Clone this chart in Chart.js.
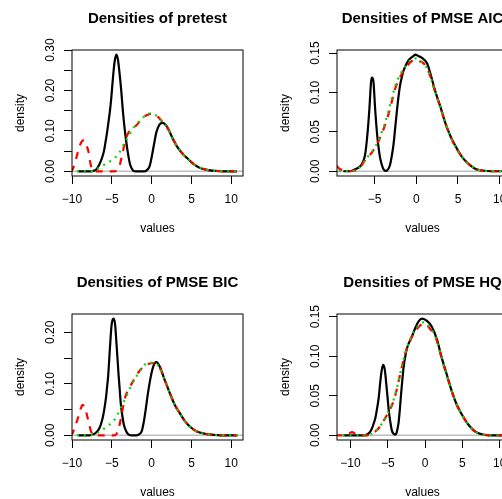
<!DOCTYPE html>
<html lang="en">
<head>
<meta charset="UTF-8">
<title>Densities</title>
<script src="https://cdn.jsdelivr.net/npm/chart.js"></script>
<style>
  body { margin: 0; overflow: hidden; background: #fff; }
  #wrap { position: relative; width: 530px; height: 528px; }
  #wrap canvas { position: absolute; }
</style>
</head>
<body>
<div id="wrap">
  <canvas id="c0" width="265" height="264" style="left:0px;top:0px"></canvas>
  <canvas id="c1" width="265" height="264" style="left:265px;top:0px"></canvas>
  <canvas id="c2" width="265" height="264" style="left:0px;top:264px"></canvas>
  <canvas id="c3" width="265" height="264" style="left:265px;top:264px"></canvas>
</div>
<script>
// panel titles
const titles = ['Densities of pretest', 'Densities of PMSE AIC', 'Densities of PMSE BIC', 'Densities of PMSE HQ'];

// density curves, [value, density]
// black = solid, red = dashed, green = dotted
const pretestBlack = [[-9.2,0],[-7.6,0],[-7.2,0.002],[-6.9,0.006],[-6.57,0.017],[-6.25,0.032],[-5.99,0.05],[-5.77,0.075],[-5.57,0.10],[-5.4,0.125],[-5.24,0.149],[-5.1,0.175],[-4.99,0.2],[-4.78,0.248],[-4.6,0.277],[-4.42,0.2885],[-4.24,0.277],[-4.07,0.25],[-3.82,0.2],[-3.61,0.149],[-3.36,0.10],[-3.2,0.075],[-3.02,0.05],[-2.73,0.019],[-2.5,0.007],[-2.31,0.002],[-2.0,0],[-0.9,0],[-0.6,0.003],[-0.25,0.013],[0.0,0.035],[0.3,0.067],[0.6,0.097],[1.0,0.116],[1.4,0.120],[1.8,0.114],[2.1,0.104],[2.7,0.079],[3.3,0.058],[3.95,0.042],[4.6,0.030],[5.2,0.019],[6.0,0.009],[7.1,0.003],[8.1,0.001],[9.0,0],[10.68,0]];
const pretestRed = [[-10.2,0],[-10,0.0025],[-9.62,0.021],[-9.3,0.045],[-9.12,0.058],[-8.8,0.073],[-8.5,0.077],[-8.25,0.068],[-7.95,0.05],[-7.66,0.017],[-7.4,0.003],[-7.2,0],[-4.7,0],[-4.35,0.003],[-4.07,0.011],[-3.73,0.038],[-3.36,0.071],[-2.94,0.095],[-2.5,0.103],[-2.0,0.112],[-1.5,0.123],[-1.0,0.134],[-0.5,0.140],[-0.1,0.142],[0.4,0.139],[0.82,0.134],[1.2,0.126],[1.6,0.117],[2.1,0.104],[2.7,0.080],[3.3,0.058],[3.95,0.042],[4.6,0.030],[5.2,0.019],[6.0,0.010],[7.1,0.003],[8.1,0.001],[9.0,0],[10.7,0]];
const pretestGreen = [[-9.4,0],[-7.8,0],[-7.0,0.004],[-6.4,0.011],[-5.57,0.021],[-4.82,0.030],[-4.11,0.045],[-3.6,0.063],[-3.15,0.078],[-2.73,0.093],[-2.2,0.110],[-1.6,0.123],[-0.85,0.137],[-0.3,0.143],[0.0,0.1435],[0.4,0.140],[0.82,0.134],[1.2,0.126],[1.6,0.117],[2.1,0.104],[2.7,0.080],[3.3,0.058],[3.95,0.042],[4.6,0.030],[5.2,0.019],[6.0,0.010],[7.1,0.003],[8.1,0.001],[9.0,0],[10.7,0]];

const aicBlack = [[-8.75,0],[-8,0],[-7.35,0.0025],[-6.9,0.005],[-6.54,0.009],[-6.14,0.021],[-5.86,0.047],[-5.62,0.080],[-5.42,0.114],[-5.3,0.119],[-5.14,0.114],[-4.94,0.080],[-4.70,0.047],[-4.5,0.028],[-4.34,0.017],[-4.1,0.007],[-3.93,0.0025],[-3.75,0.0005],[-3.53,0.001],[-3.3,0.004],[-3.13,0.009],[-2.93,0.02],[-2.73,0.034],[-2.53,0.055],[-2.33,0.076],[-2.13,0.095],[-1.93,0.11],[-1.72,0.12],[-1.52,0.128],[-0.92,0.141],[-0.32,0.1465],[-0.12,0.148],[0.3,0.146],[0.68,0.144],[1.29,0.137],[1.69,0.124],[2.29,0.101],[2.89,0.082],[3.49,0.061],[4.1,0.0445],[4.7,0.032],[5.5,0.018],[6.3,0.009],[7.1,0.003],[7.9,0.001],[9,0],[10.24,0]];
const aicRed = [[-9.8,0.008],[-9.56,0.0067],[-9.2,0.003],[-8.55,0.001],[-8.0,0],[-7.4,0.001],[-6.95,0.0025],[-6.34,0.011],[-5.84,0.018],[-5.34,0.0235],[-4.94,0.030],[-4.54,0.038],[-4.13,0.048],[-3.73,0.059],[-3.43,0.069],[-3.13,0.080],[-2.83,0.093],[-2.53,0.105],[-1.93,0.12],[-1.32,0.1305],[-0.52,0.14],[-0.12,0.1415],[0.28,0.140],[0.88,0.137],[1.49,0.126],[2.0,0.11],[2.29,0.100],[2.89,0.081],[3.49,0.061],[4.1,0.044],[4.7,0.031],[5.5,0.018],[6.3,0.009],[7.1,0.003],[7.9,0.001],[9,0],[11,0]];
const aicGreen = [[-9.3,0],[-8.0,0],[-7.4,0.001],[-6.95,0.003],[-6.34,0.011],[-5.84,0.018],[-5.34,0.0245],[-4.94,0.031],[-4.54,0.039],[-4.13,0.05],[-3.73,0.062],[-3.43,0.073],[-3.13,0.085],[-2.83,0.097],[-2.53,0.108],[-1.93,0.123],[-1.32,0.133],[-0.72,0.141],[-0.22,0.1435],[0.28,0.141],[0.88,0.137],[1.49,0.126],[2.0,0.11],[2.29,0.100],[2.89,0.081],[3.49,0.061],[4.1,0.044],[4.7,0.031],[5.5,0.018],[6.3,0.009],[7.1,0.003],[7.9,0.001],[9,0],[11,0]];

const bicBlack = [[-9.2,0],[-7.8,0],[-7.33,0.002],[-7.0,0.005],[-6.7,0.010],[-6.4,0.02],[-6.16,0.033],[-5.95,0.05],[-5.74,0.072],[-5.6,0.093],[-5.45,0.117],[-5.24,0.169],[-5.03,0.214],[-4.8,0.2265],[-4.6,0.217],[-4.4,0.175],[-4.15,0.117],[-4.0,0.087],[-3.86,0.059],[-3.67,0.037],[-3.48,0.020],[-3.2,0.008],[-2.94,0.002],[-2.6,0],[-1.9,0],[-1.6,0.002],[-1.27,0.007],[-1.0,0.025],[-0.73,0.052],[-0.5,0.078],[-0.23,0.104],[0.0,0.122],[0.19,0.133],[0.40,0.140],[0.6,0.142],[1.03,0.133],[1.65,0.107],[2.28,0.082],[2.91,0.059],[3.53,0.043],[4.16,0.028],[4.79,0.017],[5.62,0.008],[6.67,0.003],[7.71,0.001],[8.7,0],[10.68,0]];
const bicRed = [[-10.2,0],[-10,0.002],[-9.62,0.017],[-9.2,0.036],[-8.9,0.052],[-8.66,0.059],[-8.45,0.055],[-8.24,0.046],[-7.83,0.020],[-7.6,0.007],[-7.41,0.002],[-7.1,0],[-4.6,0],[-4.4,0.003],[-4.19,0.010],[-3.78,0.039],[-3.36,0.072],[-2.73,0.094],[-2.3,0.106],[-1.9,0.117],[-1.06,0.133],[-0.5,0.138],[0.0,0.140],[0.4,0.140],[1.03,0.131],[1.65,0.107],[2.28,0.082],[2.91,0.059],[3.53,0.043],[4.16,0.028],[4.79,0.017],[5.62,0.008],[6.67,0.003],[7.71,0.001],[8.7,0],[10.8,0]];
const bicGreen = [[-9.4,0],[-7.8,0],[-7.0,0.003],[-6.4,0.008],[-5.65,0.017],[-4.82,0.027],[-4.3,0.04],[-3.9,0.052],[-3.15,0.077],[-2.52,0.098],[-1.69,0.120],[-1.2,0.131],[-0.73,0.139],[-0.23,0.141],[0.4,0.140],[1.03,0.131],[1.65,0.107],[2.28,0.082],[2.91,0.059],[3.53,0.043],[4.16,0.028],[4.79,0.017],[5.62,0.008],[6.67,0.003],[7.71,0.001],[8.7,0],[10.8,0]];

const hqBlack = [[-10.95,0],[-8.2,0],[-7.78,0.001],[-7.4,0.004],[-7.11,0.009],[-6.85,0.016],[-6.67,0.0215],[-6.45,0.033],[-6.22,0.047],[-6.0,0.068],[-5.8,0.083],[-5.6,0.089],[-5.4,0.083],[-5.2,0.065],[-5.02,0.047],[-4.85,0.03],[-4.66,0.017],[-4.45,0.006],[-4.21,0.002],[-4.0,0.001],[-3.85,0.0025],[-3.7,0.008],[-3.54,0.017],[-3.38,0.033],[-3.23,0.051],[-3.05,0.07],[-2.87,0.087],[-2.65,0.1],[-2.43,0.11],[-1.76,0.125],[-1.31,0.136],[-0.87,0.144],[-0.42,0.1475],[0.25,0.1446],[0.92,0.137],[1.59,0.121],[2.26,0.097],[2.93,0.076],[3.6,0.055],[4.27,0.038],[4.94,0.026],[5.83,0.013],[6.72,0.0046],[7.61,0.0013],[8.6,0],[10.25,0]];
const hqRed = [[-12,0],[-10.6,0],[-10.2,0.002],[-9.79,0.004],[-9.4,0.002],[-9.12,0],[-7.9,0],[-7.2,0.002],[-6.44,0.0067],[-5.77,0.015],[-5.1,0.026],[-4.44,0.038],[-4.1,0.047],[-3.77,0.059],[-3.44,0.073],[-3.1,0.087],[-2.77,0.10],[-2.43,0.11],[-1.76,0.125],[-1.3,0.132],[-0.86,0.137],[-0.2,0.1417],[0.3,0.139],[0.70,0.134],[1.37,0.125],[1.8,0.112],[2.26,0.096],[2.93,0.075],[3.6,0.055],[4.27,0.038],[4.94,0.026],[5.83,0.013],[6.72,0.0046],[7.61,0.0013],[8.6,0],[11.2,0]];
const hqGreen = [[-12,0],[-7.9,0],[-7.2,0.002],[-6.44,0.007],[-5.77,0.015],[-5.1,0.026],[-4.44,0.039],[-3.77,0.060],[-3.1,0.088],[-2.43,0.111],[-1.76,0.126],[-1.1,0.136],[-0.5,0.142],[-0.1,0.143],[0.4,0.139],[0.9,0.133],[1.37,0.125],[1.8,0.112],[2.26,0.096],[2.93,0.075],[3.6,0.055],[4.27,0.038],[4.94,0.026],[5.83,0.013],[6.72,0.0046],[7.61,0.0013],[8.6,0],[11.2,0]];

// axis limits and ticks
const xLimits = [[-10, 11.47], [-9.51, 11.0], [-10, 11.47], [-11.8, 11.1]];
const yLimits = [[-0.0115, 0.3], [-0.006, 0.1539], [-0.0091, 0.2356], [-0.0059, 0.1534]];
const xTicks = [[-10, -5, 0, 5, 10], [-5, 0, 5, 10], [-10, -5, 0, 5, 10], [-10, -5, 0, 5, 10]];
const yTicks = [[0, 0.05, 0.1, 0.15, 0.2, 0.25, 0.3], [0, 0.05, 0.1, 0.15], [0, 0.05, 0.1, 0.15, 0.2], [0, 0.05, 0.1, 0.15]];
const yLabels = [['0.00', '', '0.10', '', '0.20', '', '0.30'], ['0.00', '0.05', '0.10', '0.15'], ['0.00', '', '0.10', '', '0.20'], ['0.00', '0.05', '0.10', '0.15']];

const curves = [
    [pretestBlack, pretestRed, pretestGreen],
    [aicBlack, aicRed, aicGreen],
    [bicBlack, bicRed, bicGreen],
    [hqBlack, hqRed, hqGreen]
];

const FONT = '"Liberation Sans", Arial, Helvetica, sans-serif';
Chart.defaults.font.family = FONT;
Chart.defaults.font.size = 12;
Chart.defaults.color = '#000';

// box round the plot region plus the R style main title
const framePlugin = {
    id: 'frame',
    afterDraw(chart, args, opts) {
        const a = chart.chartArea;
        const ctx = chart.ctx;
        ctx.save();
        ctx.strokeStyle = '#000';
        ctx.lineWidth = 1;
        ctx.strokeRect(a.left, a.top, a.right - a.left, a.bottom - a.top);
        ctx.fillStyle = '#000';
        ctx.font = 'bold 15px ' + FONT;
        ctx.textAlign = 'center';
        ctx.textBaseline = 'middle';
        ctx.fillText(opts.title, (a.left + a.right) / 2, 19);
        ctx.restore();
    }
};

function line(points, color, width, dash, order) {
    return {
        data: points.map(p => ({x: p[0], y: p[1]})),
        borderColor: color,
        borderWidth: width,
        borderDash: dash,
        borderCapStyle: 'butt',
        pointRadius: 0,
        showLine: true,
        fill: false,
        cubicInterpolationMode: 'monotone',
        order: order
    };
}

for (let i = 0; i < 4; i++) {
    let [xmin, xmax] = xLimits[i];
    let [ymin, ymax] = yLimits[i];
    let xt = xTicks[i], yt = yTicks[i], yl = yLabels[i];
    let datasets = [
        line([[xmin, 0], [xmax, 0]], '#bdbdbd', 1.5, [], 4),
        line(curves[i][0], '#000', 2.2, [], 3),
        line(curves[i][1], '#ff0000', 2.2, [7, 7], 2),
        line(curves[i][2], '#00dd00', 2.2, [2, 5], 1)
    ];
    new Chart(document.getElementById('c' + i), {
        type: 'scatter',
        data: {datasets: datasets},
        plugins: [framePlugin],
        options: {
            responsive: false,
            animation: false,
            devicePixelRatio: 1,
            layout: {padding: {top: 50, right: 22, left: 0, bottom: 0}},
            plugins: {
                legend: {display: false},
                tooltip: {enabled: false},
                frame: {title: titles[i]}
            },
            scales: {
                x: {
                    type: 'linear',
                    min: xmin,
                    max: xmax,
                    afterBuildTicks: s => { s.ticks = xt.map(v => ({value: v})); },
                    afterFit: s => { s.height = 88; },
                    ticks: {
                        autoSkip: false,
                        maxRotation: 0,
                        padding: 8,
                        callback: v => String(v).replace('-', '\u2212')
                    },
                    grid: {drawOnChartArea: false, tickLength: 8, color: '#000'},
                    border: {display: false},
                    title: {display: true, text: 'values', padding: {bottom: 28}}
                },
                y: {
                    type: 'linear',
                    min: ymin,
                    max: ymax,
                    afterBuildTicks: s => { s.ticks = yt.map(v => ({value: v})); },
                    afterFit: s => { s.width = 72; },
                    ticks: {
                        autoSkip: false,
                        minRotation: 90,
                        maxRotation: 90,
                        crossAlign: 'center',
                        padding: 2,
                        callback: (v, k) => yl[k]
                    },
                    grid: {drawOnChartArea: false, tickLength: 8, color: '#000'},
                    border: {display: false},
                    title: {display: true, text: 'density', padding: {top: 13.5}}
                }
            }
        }
    });
}
</script>
</body>
</html>
